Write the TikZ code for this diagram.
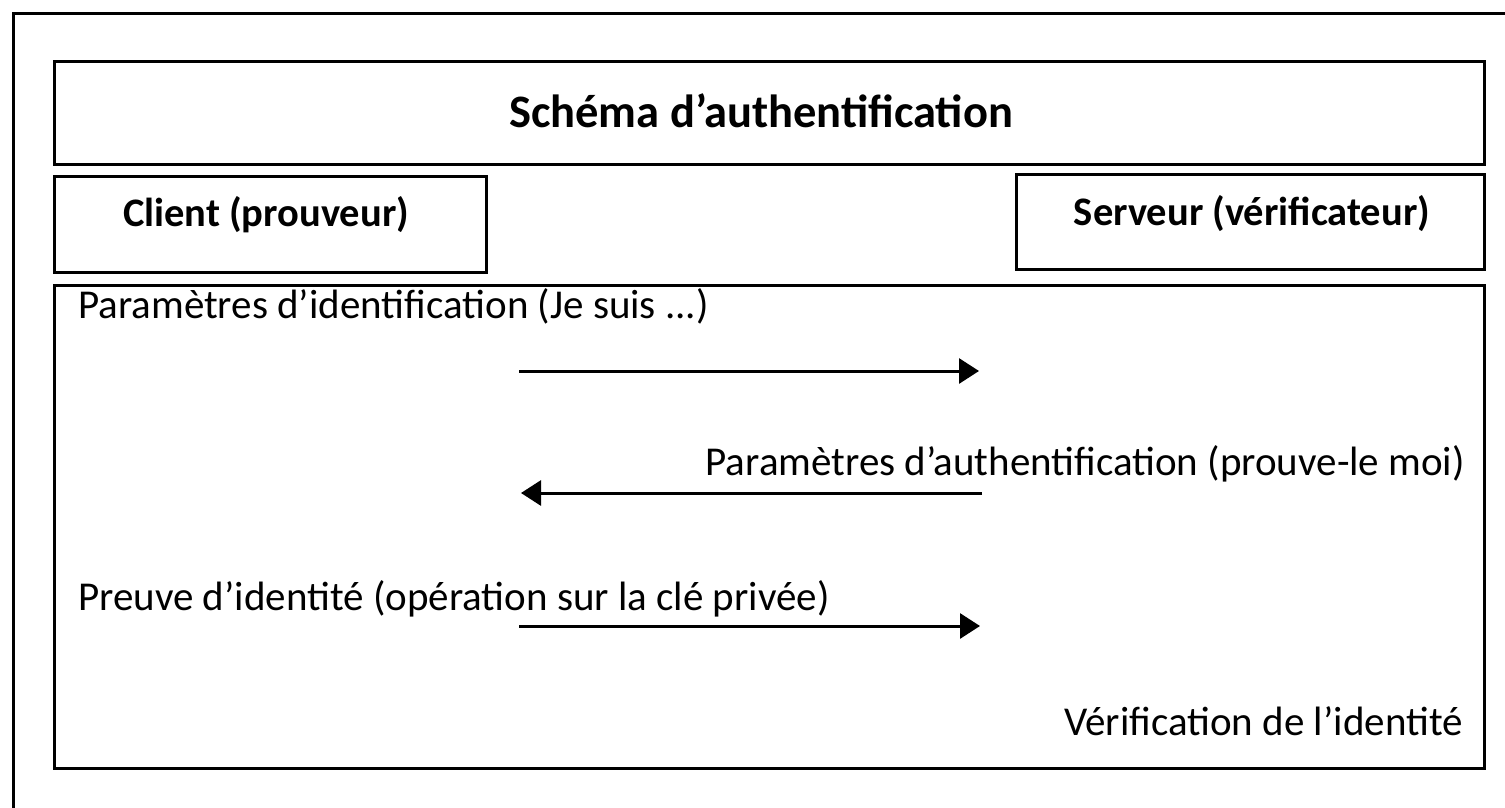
\documentclass[tikz,border=0pt]{standalone}
\usepackage{fontspec}
\setmainfont{Carlito}
\usetikzlibrary{arrows.meta}
\begin{document}
\begin{tikzpicture}[x=1pt,y=-1pt,
  frame/.style={draw=black,line width=3pt},
  box/.style={draw=black,line width=3pt,inner sep=0pt},
  headtxt/.style={font=\fontsize{40.5}{44}\selectfont\bfseries,inner sep=0pt},
  bodytxt/.style={font=\fontsize{41}{44}\selectfont,inner sep=0pt},
  msg/.style={line width=3pt,-{Triangle[length=20pt,width=25pt]}}]
  \useasboundingbox (0,0) rectangle (1505,808);
  \clip (0,0) rectangle (1505,808);

  % outer page frame, running past the right and bottom edges
  \draw[frame] (13.5,830) -- (13.5,13.5) -- (1530,13.5);

  % title, parties and exchange area
  \node[box,minimum width=1429.5pt,minimum height=102pt] (title) at (769.25,113) {};
  \node[font=\fontsize{46.5}{50}\selectfont\bfseries,inner sep=0pt,anchor=base] (titletxt) at (761,128) {Schéma d’authentification};

  \node[box,minimum width=431.5pt,minimum height=95.5pt] (client) at (270.25,224.25) {};
  \node[headtxt,anchor=base] (clienttxt) at (266,226) {Client (prouveur)};

  \node[box,minimum width=467.5pt,minimum height=95.5pt] (serveur) at (1250.25,221.75) {};
  \node[headtxt,anchor=base] (serveurtxt) at (1252,225) {Serveur (vérificateur)};

  \node[box,minimum width=1429.5pt,minimum height=482.5pt] (zone) at (769.25,526.75) {};

  % messages
  \node[bodytxt,anchor=base west] (m1) at (78,318) {Paramètres d’identification (Je suis ...)};
  \node[bodytxt,anchor=base east] (m2) at (1465,475) {Paramètres d’authentification (prouve-le moi)};
  \node[bodytxt,anchor=base west] (m3) at (78,610) {Preuve d’identité (opération sur la clé privée)};
  \node[bodytxt,anchor=base east] (m4) at (1463,735) {Vérification de l’identité};

  \coordinate (c1) at (519,371);
  \coordinate (s1) at (979,371);
  \coordinate (s2) at (982,493);
  \coordinate (c2) at (521,493);
  \coordinate (c3) at (519,626);
  \coordinate (s3) at (980,626);

  \draw[msg] (c1) -- (s1);
  \draw[msg] (s2) -- (c2);
  \draw[msg] (c3) -- (s3);
\end{tikzpicture}
\end{document}
